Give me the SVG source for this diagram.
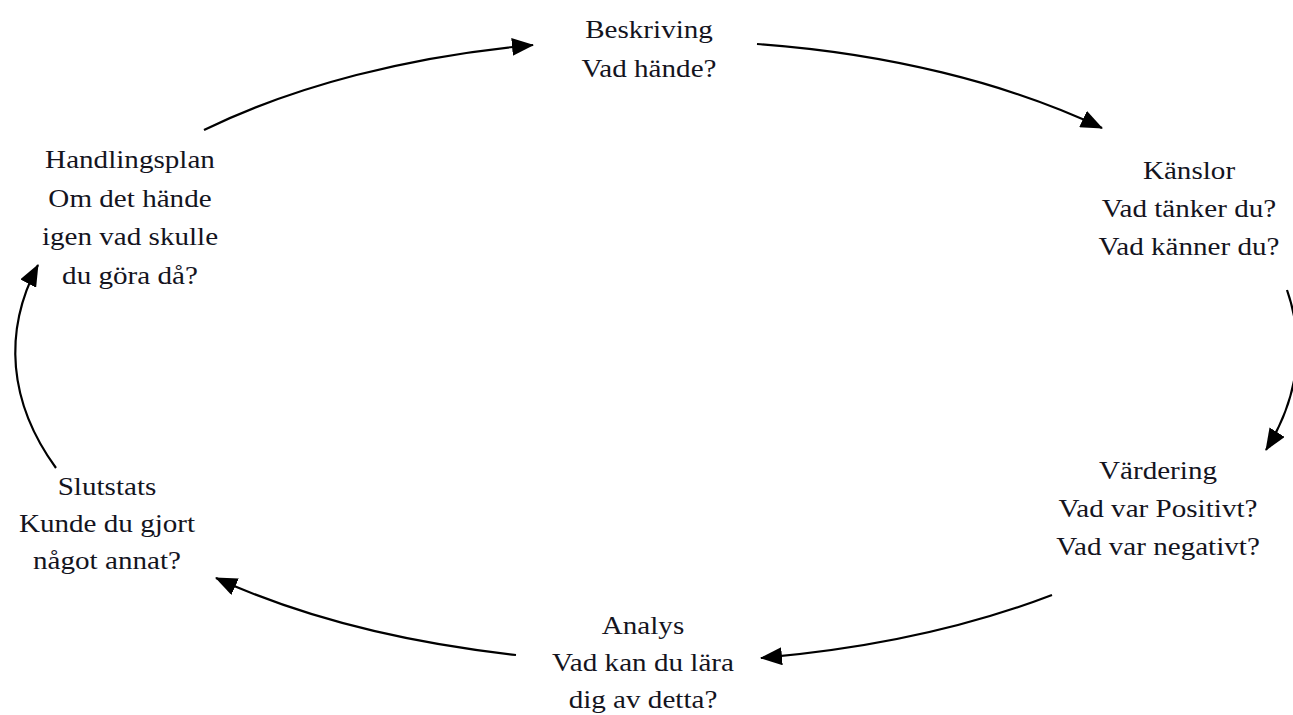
<svg xmlns="http://www.w3.org/2000/svg" width="1293" height="715" viewBox="0 0 1293 715">
<style>
.t{font-family:"Liberation Serif","Times New Roman",serif;font-size:26px;fill:#14141e;text-anchor:middle}
.c{fill:none;stroke:#000;stroke-width:2.2}
</style>
<defs>
<marker id="ah" markerUnits="userSpaceOnUse" markerWidth="22" markerHeight="18" viewBox="0 0 22 18" refX="21" refY="9" orient="auto">
<path d="M0,0 L22,9 L0,18 z" fill="#000"/>
</marker>
</defs>
<rect width="1293" height="715" fill="#fff"/>
<g id="connectors">
<path class="c" marker-end="url(#ah)" d="M204,130 A640,330 0 0 1 533,45"/>
<path class="c" marker-end="url(#ah)" d="M757,44 A640,330 0 0 1 1102,128"/>
<path class="c" marker-end="url(#ah)" d="M1287,290 A640,330 0 0 1 1266,450"/>
<path class="c" marker-end="url(#ah)" d="M1052,595 A640,296 0 0 1 761,658"/>
<path class="c" marker-end="url(#ah)" d="M516,655 A640,296 0 0 1 216,578"/>
<path class="c" marker-end="url(#ah)" d="M56,468 A640,330 0 0 1 38,265"/>
</g>
<g id="beskriving" transform="translate(649,0) scale(1.12,1)">
<text class="t" x="0" y="38">Beskriving</text>
<text class="t" x="0" y="77">Vad hände?</text>
</g>
<g id="kanslor" transform="translate(1189,0) scale(1.12,1)">
<text class="t" x="0" y="179">Känslor</text>
<text class="t" x="0" y="217">Vad tänker du?</text>
<text class="t" x="0" y="255">Vad känner du?</text>
</g>
<g id="vardering" transform="translate(1158,0) scale(1.12,1)">
<text class="t" x="0" y="479">Värdering</text>
<text class="t" x="0" y="517">Vad var Positivt?</text>
<text class="t" x="0" y="555">Vad var negativt?</text>
</g>
<g id="analys" transform="translate(643,0) scale(1.12,1)">
<text class="t" x="0" y="634">Analys</text>
<text class="t" x="0" y="671">Vad kan du lära</text>
<text class="t" x="0" y="708">dig av detta?</text>
</g>
<g id="slutstats" transform="translate(107,0) scale(1.12,1)">
<text class="t" x="0" y="495">Slutstats</text>
<text class="t" x="0" y="532">Kunde du gjort</text>
<text class="t" x="0" y="569">något annat?</text>
</g>
<g id="handlingsplan" transform="translate(130,0) scale(1.12,1)">
<text class="t" x="0" y="168">Handlingsplan</text>
<text class="t" x="0" y="207">Om det hände</text>
<text class="t" x="0" y="245">igen vad skulle</text>
<text class="t" x="0" y="284">du göra då?</text>
</g>
</svg>
